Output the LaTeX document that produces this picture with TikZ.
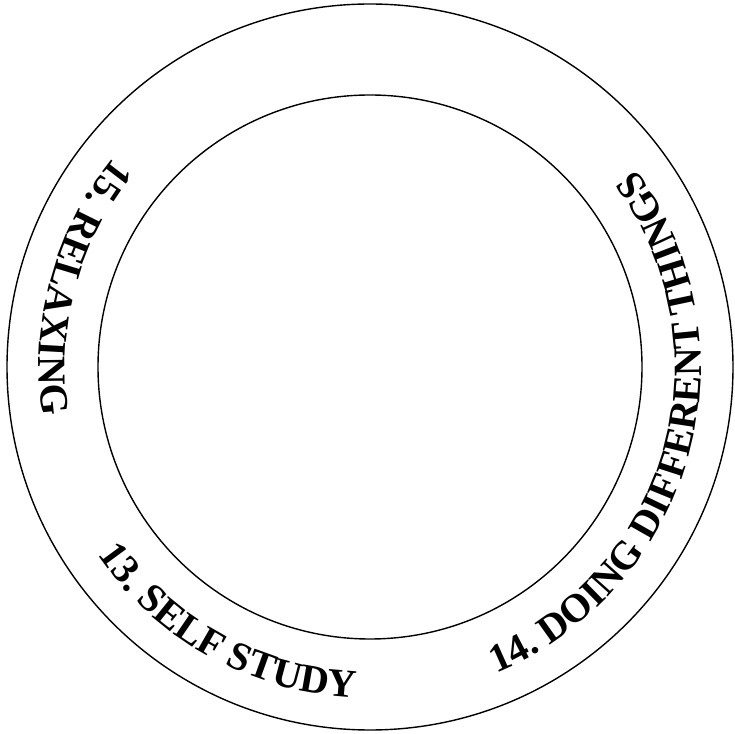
\documentclass[tikz,border=0pt]{standalone}
\usepackage{fontspec}
\setmainfont{Liberation Serif}
\usetikzlibrary{decorations.text}
\newcommand\arclabelfont{\fontsize{40}{44}\selectfont\bfseries}
\tikzset{
  ring/.style={draw=black, line width=1.4pt},
  arclabel/.style={decorate, decoration={text along path, text align=center,
    text={#1}}}
}
\begin{document}
\begin{tikzpicture}[x=1pt,y=1pt]
\useasboundingbox (0,0) rectangle (734,734);
\coordinate (c) at (370,367);
\draw[ring] (c) circle[radius=363];
\draw[ring] (c) circle[radius=272];
% 13. SELF STUDY, centered at 241 deg
\path[arclabel={|\arclabelfont|13. SELF STUDY}]
  ([shift={(181:331)}]c) arc[start angle=181, end angle=301, radius=331];
% 14. DOING DIFFERENT THINGS, centered at 344.5 deg
\path[arclabel={|\arclabelfont|14. DOING DIFFERENT THINGS}]
  ([shift={(269.5:331)}]c) arc[start angle=269.5, end angle=419.5, radius=331];
% 15. RELAXING, centered at 164.7 deg
\path[arclabel={|\arclabelfont|15. RELAXING}]
  ([shift={(104.7:331)}]c) arc[start angle=104.7, end angle=224.7, radius=331];
\end{tikzpicture}
\end{document}
